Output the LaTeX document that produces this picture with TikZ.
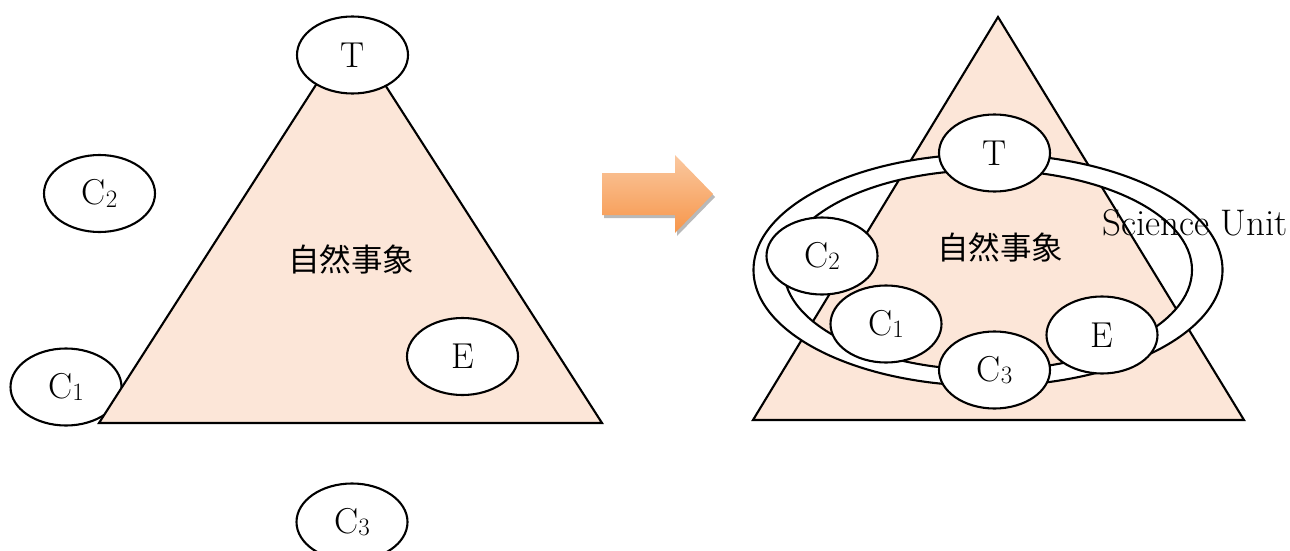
\documentclass[tikz,border=0pt]{standalone}
\usepackage{fontspec}
\newfontfamily\jpfont{Noto Sans CJK JP}
\usetikzlibrary{shapes.geometric}
\definecolor{peach}{HTML}{FCE6D8}
\definecolor{arrtop}{HTML}{FAC8A0}
\definecolor{arrbot}{HTML}{F7964A}
\newcommand{\Csub}[1]{C\raisebox{-2.5pt}{\fontsize{25}{25}\selectfont #1}}
\begin{document}
\begin{tikzpicture}[x=1pt,y=-1pt,
 ell/.style={ellipse, draw=black, fill=white, line width=2.1pt, minimum width=111pt, minimum height=77pt, inner sep=0pt, font=\fontsize{36}{42}\selectfont},
 tri/.style={draw=black, fill=peach, line width=2.1pt, line join=miter},
 lbl/.style={font=\jpfont\fontsize{31.5}{36}\selectfont},
 ringline/.style={draw=black, fill=white, even odd rule, line width=2.1pt},
 sh/.style={xshift=2pt, yshift=-3pt}]
\useasboundingbox (0,0) rectangle (1290,551);
\clip (0,0) rectangle (1290,551);
% ---------- left figure ----------
\node[ell] (lC1) at (66,387) {\Csub{1}};
\coordinate (LA) at (350.5,31);
\coordinate (LB) at (99,423);
\coordinate (LC) at (602,423);
\draw[tri] (LA) -- (LB) -- (LC) -- cycle;
\node[ell] (lT) at (352.5,55) {T};
\node[ell] (lC2) at (99.5,193.5) {\Csub{2}};
\node[ell] (lE) at (462.5,356.5) {E};
\node[ell] (lC3) at (352,522) {\Csub{3}};
\node[lbl] (lN) at (351,259) {自然事象};
% ---------- arrow ----------
\coordinate (a1) at (602,173);
\coordinate (a2) at (675,173);
\coordinate (a3) at (675,155);
\coordinate (a4) at (713,194);
\coordinate (a5) at (675,233);
\coordinate (a6) at (675,215);
\coordinate (a7) at (602,215);
\fill[gray!55] ([sh]a1) -- ([sh]a2) -- ([sh]a3) -- ([sh]a4) -- ([sh]a5) -- ([sh]a6) -- ([sh]a7) -- cycle;
\shade[top color=arrtop, bottom color=arrbot] (a1) -- (a2) -- (a3) -- (a4) -- (a5) -- (a6) -- (a7) -- cycle;
% ---------- right figure ----------
\coordinate (RA) at (998,17);
\coordinate (RB) at (753,420);
\coordinate (RC) at (1244,420);
\draw[tri] (RA) -- (RB) -- (RC) -- cycle;
\path[ringline] (988,270) ellipse [x radius=234.5pt, y radius=116pt]
                (988,270) ellipse [x radius=204pt, y radius=100pt];
\node[ell] (rT) at (994.5,153) {T};
\node[ell] (rC2) at (822,256) {\Csub{2}};
\node[ell] (rC1) at (886,324) {\Csub{1}};
\node[ell] (rC3) at (994.5,370) {\Csub{3}};
\node[ell] (rE) at (1102,335) {E};
\node[lbl] (rN) at (1000,247) {自然事象};
\node[font=\fontsize{37}{44}\selectfont, anchor=base] (su) at (1195,235) {Science Unit};
\end{tikzpicture}
\end{document}
